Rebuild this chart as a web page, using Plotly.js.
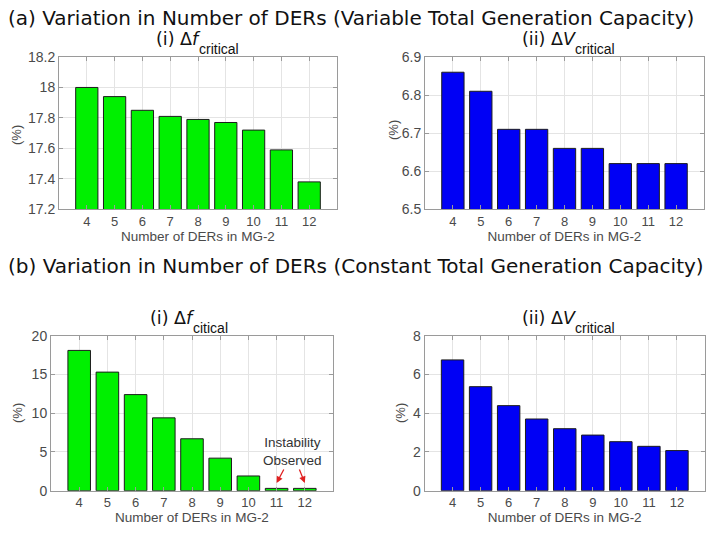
<!DOCTYPE html>
<html>
<head>
<meta charset="utf-8">
<script src="https://cdn.plot.ly/plotly-3.0.1.min.js"></script>
<style>html,body{margin:0;padding:0;background:#fff;}#chart{width:725px;height:533px;}</style>
</head>
<body>
<div id="chart"></div>
<script>
// ---- data ----
const ders = [4, 5, 6, 7, 8, 9, 10, 11, 12];
const dfVariable = [18.0, 17.94, 17.85, 17.81, 17.79, 17.77, 17.72, 17.59, 17.38];
const dvVariable = [6.86, 6.81, 6.71, 6.71, 6.66, 6.66, 6.62, 6.62, 6.62];
const dfConstant = [18.1, 15.3, 12.4, 9.4, 6.7, 4.2, 1.9, 0.3, 0.3];
const dvConstant = [6.75, 5.37, 4.39, 3.70, 3.20, 2.87, 2.53, 2.29, 2.07];
const xTickLabels = ['4', '5', '6', '7', '8', '9', '10', '11', '12'];

const titleA = '(a) Variation in Number of DERs (Variable Total Generation Capacity)';
const titleB = '(b) Variation in Number of DERs (Constant Total Generation Capacity)';
const xTitle = 'Number of DERs in MG-2';

// ---- layout helpers ----
const W = 725, H = 533;
const px = x => x / W;
const py = y => 1 - y / H;
const FONT = 'Liberation Sans, Arial, sans-serif';
const WIDE = 'DejaVu Sans, Liberation Sans, sans-serif';
const GREEN = '#00f000';
const BLUE = '#0000f5';
const TICKC = '#4a4a4a';

function bar(y, color, ax) {
  return {
    type: 'bar', x: ders, y: y, width: 0.8,
    marker: {color: color, line: {color: '#1c1c1c', width: 1}},
    xaxis: 'x' + ax, yaxis: 'y' + ax, hoverinfo: 'x+y', showlegend: false
  };
}

function xax(domain, anchor) {
  return {
    domain: domain, anchor: anchor, range: [3, 13],
    tickvals: ders, ticktext: xTickLabels,
    ticks: 'inside', ticklen: 4, tickcolor: '#9a9a9a', mirror: 'ticks',
    showline: true, linecolor: '#9a9a9a', linewidth: 1,
    showgrid: true, gridcolor: '#e4e4e4', zeroline: false,
    tickfont: {family: FONT, size: 13, color: TICKC},
    title: {text: xTitle, font: {family: FONT, size: 13.5, color: TICKC}, standoff: 2}
  };
}
function yax(domain, anchor, range, dtick) {
  return {
    domain: domain, anchor: anchor, range: range, dtick: dtick, tick0: range[0],
    ticks: 'inside', ticklen: 4, tickcolor: '#9a9a9a', mirror: 'ticks',
    showline: true, linecolor: '#9a9a9a', linewidth: 1,
    showgrid: true, gridcolor: '#e4e4e4', zeroline: false,
    tickfont: {family: FONT, size: 14, color: TICKC}
  };
}

const data = [
  bar(dfVariable, GREEN, ''),
  bar(dvVariable, BLUE, '2'),
  bar(dfConstant, GREEN, '3'),
  bar(dvConstant, BLUE, '4')
];

const topY = [py(209.3), py(57)];
const botY = [py(490.7), py(335.7)];

function ann(text, x, y, size, opts) {
  return Object.assign({
    text: text, x: px(x), y: py(y), xref: 'paper', yref: 'paper',
    showarrow: false, xanchor: 'left', yanchor: 'middle',
    font: {family: FONT, size: size, color: '#111'}
  }, opts || {});
}
const wide = (size) => ({font: {family: WIDE, size: size, color: '#111'}});
const yl = {xanchor: 'center', textangle: -90, font: {family: FONT, size: 13, color: TICKC}};

const annotations = [
  ann(titleA, 6, 18, 20, wide(20)),
  ann(titleB, 6, 266, 20, wide(20)),
  // subplot titles
  ann('(i) Δ<i>f</i>', 154, 39, 17.5, wide(17.5)),
  ann('critical', 197, 49, 14),
  ann('(ii) Δ<i>V</i>', 520, 39, 17.5, wide(17.5)),
  ann('critical', 573, 49, 14),
  ann('(i) Δ<i>f</i>', 148, 318, 17.5, wide(17.5)),
  ann('citical', 191, 328, 14),
  ann('(ii) Δ<i>V</i>', 520, 318, 17.5, wide(17.5)),
  ann('critical', 573, 328, 14),
  // y labels
  ann('(%)', 16, 135, 13, yl),
  ann('(%)', 393, 130, 13, yl),
  ann('(%)', 17, 413, 13, yl),
  ann('(%)', 400, 413, 13, yl),
  // instability note
  {text: 'Instability<br>Observed', x: 11.55, y: 5.0, xref: 'x3', yref: 'y3', showarrow: false,
   xanchor: 'center', yanchor: 'middle', font: {family: FONT, size: 13.5, color: '#333'}},
  {text: '', x: 11, y: 1.0, xref: 'x3', yref: 'y3', showarrow: true, arrowhead: 2, arrowsize: 1,
   arrowwidth: 1.3, arrowcolor: '#e02020', ax: 8, ay: -15},
  {text: '', x: 12, y: 1.0, xref: 'x3', yref: 'y3', showarrow: true, arrowhead: 2, arrowsize: 1,
   arrowwidth: 1.3, arrowcolor: '#e02020', ax: -6, ay: -15}
];

const layout = {
  width: W, height: H,
  margin: {l: 0, r: 0, t: 0, b: 0},
  paper_bgcolor: '#fff', plot_bgcolor: '#fff',
  font: {family: FONT},
  bargap: 0.2,
  xaxis: xax([px(59), px(337)], 'y'),
  yaxis: yax(topY, 'x', [17.2, 18.2], 0.2),
  xaxis2: xax([px(425), px(704)], 'y2'),
  yaxis2: yax(topY, 'x2', [6.5, 6.9], 0.1),
  xaxis3: xax([px(51), px(333)], 'y3'),
  yaxis3: yax(botY, 'x3', [0, 20], 5),
  xaxis4: xax([px(424.5), px(705)], 'y4'),
  yaxis4: yax(botY, 'x4', [0, 8], 2),
  annotations: annotations
};

Plotly.newPlot('chart', data, layout, {displayModeBar: false, staticPlot: true});
</script>
</body>
</html>
